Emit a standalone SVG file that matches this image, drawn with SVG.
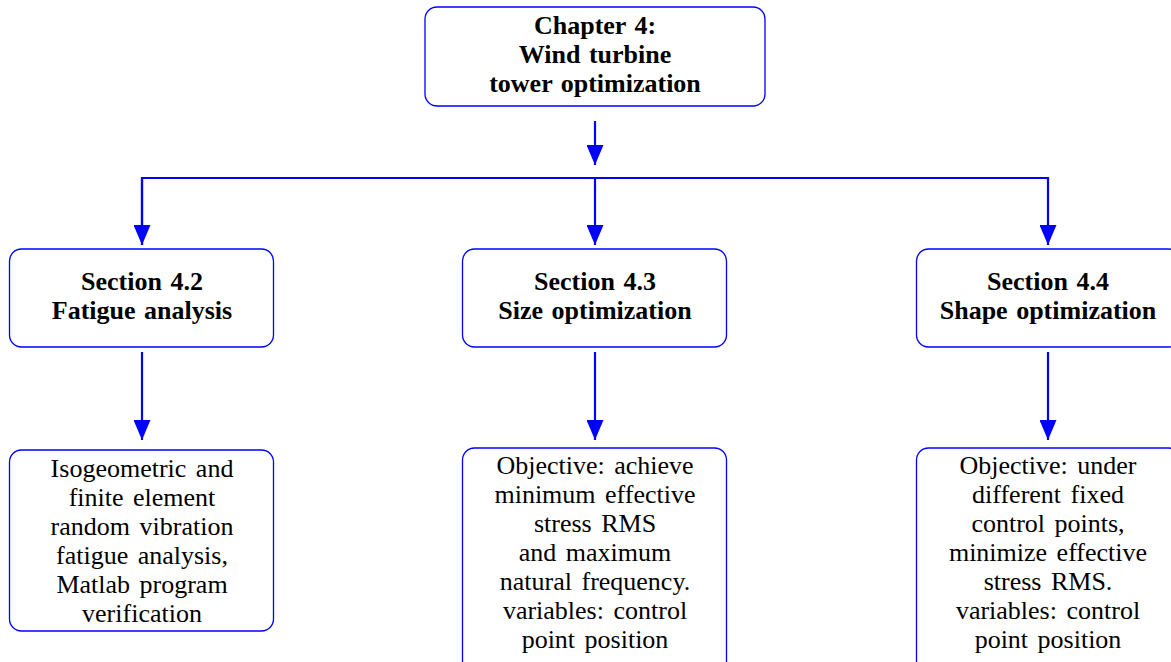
<svg xmlns="http://www.w3.org/2000/svg" width="1171" height="662" viewBox="0 0 1171 662">
<defs>
<style>
.box{fill:#fff;stroke:#0000ff;stroke-width:1.3}
.h{font-family:'Liberation Serif','DejaVu Serif',serif;font-weight:bold;font-size:26px;word-spacing:2px;text-anchor:middle;fill:#000}
.t{font-family:'Liberation Serif','DejaVu Serif',serif;font-size:26px;word-spacing:3px;text-anchor:middle;fill:#000}
.c{fill:none;stroke:#0000ff;stroke-width:2.2}
</style>
<marker id="ah" viewBox="0 0 20 17" refX="20" refY="8.5" markerWidth="20" markerHeight="17" markerUnits="userSpaceOnUse" orient="auto">
<path d="M0,0 L20,8.5 L0,17 Z" fill="#0000ff"/>
</marker>
</defs>
<rect width="1171" height="662" fill="#fff"/>
<g id="connectors">
<path class="c" d="M595,121 V165" marker-end="url(#ah)"/>
<path class="c" d="M142,245 V178 H1048 V245" marker-end="url(#ah)"/>
<path class="c" d="M142,178 V245" marker-end="url(#ah)"/>
<path class="c" d="M595,178 V245" marker-end="url(#ah)"/>
<path class="c" d="M142,352 V440" marker-end="url(#ah)"/>
<path class="c" d="M595,352 V440" marker-end="url(#ah)"/>
<path class="c" d="M1048,352 V440" marker-end="url(#ah)"/>
</g>
<g id="chapter4">
<rect class="box" x="425" y="7" width="340" height="99" rx="12"/>
<text class="h" x="595" y="34">Chapter 4:</text>
<text class="h" x="595" y="63">Wind turbine</text>
<text class="h" x="595" y="92">tower optimization</text>
</g>
<g id="sec42">
<rect class="box" x="9.5" y="249" width="264" height="98" rx="12"/>
<text class="h" x="142" y="290">Section 4.2</text>
<text class="h" x="142" y="319">Fatigue analysis</text>
</g>
<g id="sec43">
<rect class="box" x="462.5" y="249" width="264" height="98" rx="12"/>
<text class="h" x="595" y="290">Section 4.3</text>
<text class="h" x="595" y="319">Size optimization</text>
</g>
<g id="sec44">
<rect class="box" x="916.5" y="249" width="264" height="98" rx="12"/>
<text class="h" x="1048" y="290">Section 4.4</text>
<text class="h" x="1048" y="319">Shape optimization</text>
</g>
<g id="fatigue">
<rect class="box" x="9.5" y="450" width="264" height="181" rx="12"/>
<text class="t" x="142" y="477">Isogeometric and</text>
<text class="t" x="142" y="506">finite element</text>
<text class="t" x="142" y="535">random vibration</text>
<text class="t" x="142" y="564">fatigue analysis,</text>
<text class="t" x="142" y="593">Matlab program</text>
<text class="t" x="142" y="622">verification</text>
</g>
<g id="size">
<rect class="box" x="462.5" y="448" width="264" height="230" rx="12"/>
<text class="t" x="595" y="474">Objective: achieve</text>
<text class="t" x="595" y="503">minimum effective</text>
<text class="t" x="595" y="532">stress RMS</text>
<text class="t" x="595" y="561">and maximum</text>
<text class="t" x="595" y="590">natural frequency.</text>
<text class="t" x="595" y="619">variables: control</text>
<text class="t" x="595" y="648">point position</text>
</g>
<g id="shape">
<rect class="box" x="916.5" y="448" width="264" height="230" rx="12"/>
<text class="t" x="1048" y="474">Objective: under</text>
<text class="t" x="1048" y="503">different fixed</text>
<text class="t" x="1048" y="532">control points,</text>
<text class="t" x="1048" y="561">minimize effective</text>
<text class="t" x="1048" y="590">stress RMS.</text>
<text class="t" x="1048" y="619">variables: control</text>
<text class="t" x="1048" y="648">point position</text>
</g>
</svg>
